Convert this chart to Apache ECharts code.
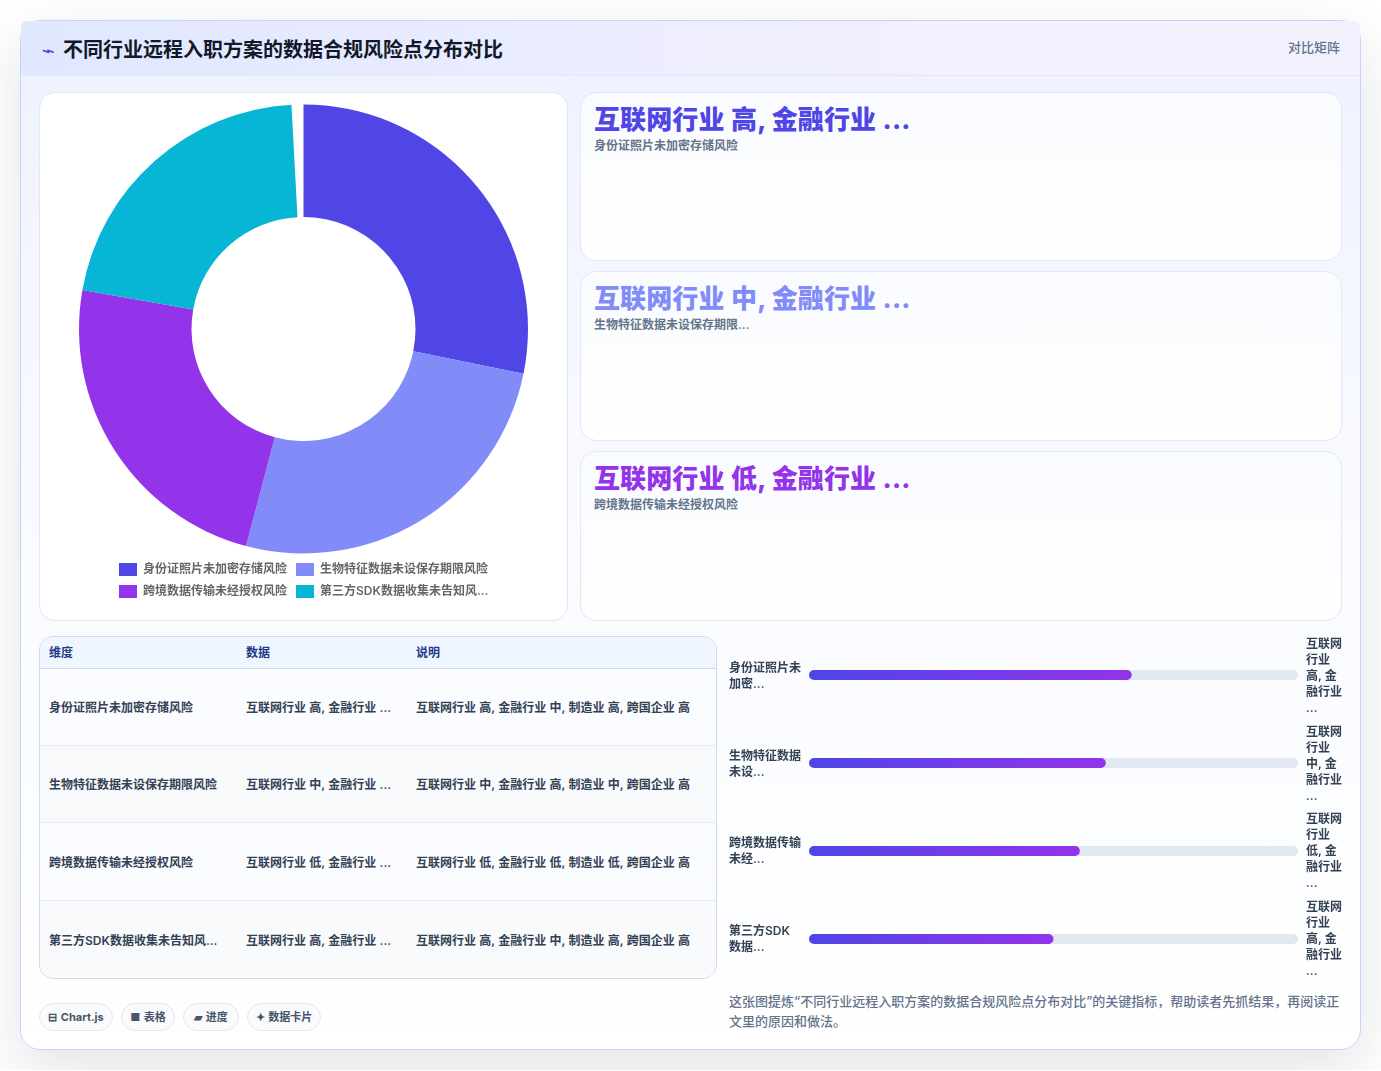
<!DOCTYPE html>
<html lang="zh">
<head>
<meta charset="utf-8">
<title>不同行业远程入职方案的数据合规风险点分布对比</title>
<script src="https://cdn.jsdelivr.net/npm/echarts@6/dist/echarts.min.js"></script>
<style>
  * { box-sizing: border-box; }
  html { margin: 0; padding: 0; background: #fff; }
  body { margin: 0; padding: 0; background: #fff; width: 1381px; height: 1070px; overflow: hidden; position: relative;
         font-family: Inter, "Noto Sans CJK SC", "Noto Sans", sans-serif; color: #334155; }
  .abs { position: absolute; }
  #panel { left: 20px; top: 20px; width: 1341px; height: 1030px; border: 1px solid #c7d2fe; border-radius: 20px;
           background: linear-gradient(180deg, #eef2ff 0%, #f8faff 45%, #ffffff 100%);
           box-shadow: 0 20px 60px rgba(15, 23, 42, 0.12); }
  #head { left: 21px; top: 21px; width: 1339px; height: 55px; border-bottom: 1px solid #e2e8f8;
          background: linear-gradient(90deg, #e0e7ff 0%, #f3f0ff 70%, #f4f1ff 100%); border-radius: 6px 6px 0 0; }
  #bolt { left: 42px; top: 40px; font-size: 16px; line-height: 20px; color: #4f46e5; font-weight: 700;
          transform: scale(1.3, 0.75); transform-origin: left center; }
  #title { left: 63px; top: 36px; font-size: 20px; line-height: 29px; font-weight: 700; color: #111827; white-space: nowrap; }
  #mode { right: 41px; top: 37px; font-size: 13px; line-height: 20px; color: #64748b; font-weight: 500; }
  .card { background: linear-gradient(180deg, #fafbff 0%, #ffffff 100%); border: 1px solid #e2e8f8; border-radius: 16px; }
  #pieCard { left: 39px; top: 92px; width: 529px; height: 529px; background: #fff; }
  #pie { left: 40px; top: 94px; width: 527px; height: 526px; }
  .stat { left: 580px; width: 762px; }
  .stat b { position: absolute; left: 13px; top: 8px; font-size: 26px; line-height: 38px; font-weight: 800; white-space: pre;
            letter-spacing: 0.12px; word-spacing: 0.6px; }
  .stat span { position: absolute; left: 13px; top: 44px; font-size: 12px; line-height: 18px; color: #64748b; font-weight: 600; }
  #table { left: 39px; top: 635.5px; width: 678px; height: 343px; border: 1px solid #cfd9ea; border-radius: 14px;
           overflow: hidden; background: #fbfcff; }
  #table div.row { position: absolute; left: 0; width: 100%; border-bottom: 1px solid #e4e9f2; }
  #table div.row:last-child { border-bottom: 0; }
  #table i { position: absolute; left: 0; top: 0; bottom: 0; font-style: normal; display: flex; align-items: center;
             font-size: 12px; font-weight: 600; white-space: pre; word-spacing: 0.3px; }
  #table div.hd { background: #eff6ff; border-bottom: 1px solid #cfd9ea; }
  #table div.hd i { color: #1e3a8a; font-weight: 700; padding-bottom: 2px; }
  #table div.alt { background: #f8fafc; }
  #bars { left: 721px; top: 631px; width: 632px; height: 352px; }
  .chip { top: 1003px; height: 28px; border: 1px solid #e2e8f0; border-radius: 14px; background: #f8fafc; word-spacing: 1px;
          font-size: 11px; line-height: 26px; font-weight: 700; color: #475569; text-align: center; white-space: nowrap; }
  #note { left: 729px; top: 991px; width: 620px; font-size: 13px; line-height: 20px; color: #64748b; font-weight: 500; }
</style>
</head>
<body>
<div class="abs" id="panel"></div>
<div class="abs" id="head"></div>
<div class="abs" id="bolt">⌁</div>
<div class="abs" id="title"></div>
<div class="abs" id="mode"></div>
<div class="abs card" id="pieCard"></div>
<div class="abs" id="pie"></div>
<div class="abs" id="stats"></div>
<div class="abs" id="table"></div>
<div class="abs" id="bars"></div>
<div class="abs" id="chips"></div>
<div class="abs" id="note"></div>

<script>
// Dashboard copy
const pageTitle = '不同行业远程入职方案的数据合规风险点分布对比';
const modeLabel = '对比矩阵';
const noteText = '这张图提炼“不同行业远程入职方案的数据合规风险点分布对比”的关键指标，帮助读者先抓结果，再阅读正文里的原因和做法。';

// Risk categories and their scores
const riskNames = ['身份证照片未加密存储风险', '生物特征数据未设保存期限风险', '跨境数据传输未经授权风险', '第三方SDK数据收集未告知风险'];
const riskScores = [66, 60.7, 55.4, 50];
const unassignedShare = [2];
const riskColors = ['#4f46e5', '#818cf8', '#9333ea', '#06b6d4'];

// Short value strings and the full per-industry ratings
const shortValues = ['互联网行业 高, 金融行业 ...', '互联网行业 中, 金融行业 ...', '互联网行业 低, 金融行业 ...', '互联网行业 高, 金融行业 ...'];
const fullValues = [
  '互联网行业 高, 金融行业 中, 制造业 高, 跨国企业 高',
  '互联网行业 中, 金融行业 高, 制造业 中, 跨国企业 高',
  '互联网行业 低, 金融行业 低, 制造业 低, 跨国企业 高',
  '互联网行业 高, 金融行业 中, 制造业 高, 跨国企业 高'
];
const tableHeads = ['维度', '数据', '说明'];
const statNames = ['身份证照片未加密存储风险', '生物特征数据未设保存期限...', '跨境数据传输未经授权风险'];
const barLeftLabels = ['身份证照片未\n加密...', '生物特征数据\n未设...', '跨境数据传输\n未经...', '第三方SDK\n数据...'];
const barRightLabels = ['互联网\n行业\n高, 金\n融行业\n...', '互联网\n行业\n中, 金\n融行业\n...', '互联网\n行业\n低, 金\n融行业\n...', '互联网\n行业\n高, 金\n融行业\n...'];
const chipLabels = ['⊟ Chart.js', '■ 表格', '▰ 进度', '✦ 数据卡片'];

const tableColumnX = [9, 206, 376];
const tableRowTops = [0, 32, 109, 186, 264];
const tableRowHeights = [32, 77, 77, 78, 77];
const statTops = [92, 271, 451];
const statHeights = [169, 170, 170];
const chipLefts = [39, 121, 183, 247];
const chipWidths = [74, 54, 56, 74];

const shorten = (s, n) => (s.length > n ? s.slice(0, n) + '...' : s);

// Static page text
document.getElementById('title').textContent = pageTitle;
document.getElementById('mode').textContent = modeLabel;
document.getElementById('note').textContent = noteText;

// Summary cards
document.getElementById('stats').innerHTML = statNames.map((n, i) =>
  `<div class="abs card stat" style="top:${statTops[i]}px;height:${statHeights[i]}px">
     <b style="color:${riskColors[i]}">${shortValues[i]}</b><span>${n}</span></div>`).join('');

// Detail table
const rowCells = [tableHeads].concat(riskNames.map((n, i) => [shorten(n, 14), shortValues[i], fullValues[i]]));
document.getElementById('table').innerHTML = rowCells.map((cells, r) =>
  `<div class="row ${r === 0 ? 'hd' : (r % 2 === 0 ? 'alt' : '')}" style="top:${tableRowTops[r]}px;height:${tableRowHeights[r]}px">` +
  cells.map((c, k) => `<i style="left:${tableColumnX[k]}px">${c}</i>`).join('') + '</div>').join('');

// Footer chips
document.getElementById('chips').innerHTML = chipLabels.map((c, i) =>
  `<div class="abs chip" style="left:${chipLefts[i]}px;width:${chipWidths[i]}px">${c}</div>`).join('');

// Donut with its legend
const fontFamily = 'Inter, "Noto Sans CJK SC", "Noto Sans", sans-serif';
const pie = echarts.init(document.getElementById('pie'));
pie.setOption({
  animation: false,
  legend: {
    data: riskNames,
    left: 74, top: 464, width: 400, itemWidth: 18, itemHeight: 13, itemGap: 9,
    icon: 'rect', selectedMode: false,
    formatter: n => shorten(n, 14),
    textStyle: { fontFamily, fontSize: 12, fontWeight: 600, color: '#666', padding: [0, 0, 0, 1] }
  },
  series: [{
    type: 'pie', silent: true, startAngle: 90, clockwise: true,
    center: [263.5, 235], radius: [112, 224.5], label: { show: false }, labelLine: { show: false },
    data: riskNames.map((name, i) => ({ name, value: riskScores[i], itemStyle: { color: riskColors[i] } }))
      .concat(unassignedShare.map(value => ({ name: '', value, itemStyle: { color: 'rgba(0,0,0,0)' } })))
  }]
});

// Progress rows: the bars sit in the first grid, the text columns in a second grid just below it
const bars = echarts.init(document.getElementById('bars'));
const barFill = new echarts.graphic.LinearGradient(0, 0, 1, 0, [
  { offset: 0, color: '#4f46e5' }, { offset: 1, color: '#9333ea' }
]);
const axisText = { fontFamily, fontSize: 12, fontWeight: 600, color: '#334155', lineHeight: 16 };
const hiddenLine = { axisLine: { show: false }, axisTick: { show: false } };
bars.setOption({
  animation: false,
  grid: [
    { left: 88, right: 55, top: 0, bottom: 0 },
    { left: 88, right: 55, top: 2, bottom: -2 }
  ],
  xAxis: [
    { gridIndex: 0, type: 'value', min: 0, max: 100, show: false },
    { gridIndex: 1, type: 'value', min: 0, max: 100, show: false }
  ],
  yAxis: [
    { gridIndex: 0, type: 'category', inverse: true, data: barLeftLabels, show: false },
    Object.assign({ gridIndex: 1, type: 'category', inverse: true, data: barLeftLabels,
      axisLabel: Object.assign({}, axisText, { align: 'left', margin: 80 }) }, hiddenLine),
    Object.assign({ gridIndex: 1, type: 'category', inverse: true, position: 'right', data: barRightLabels,
      axisLabel: Object.assign({}, axisText, { align: 'left', margin: 8 }) }, hiddenLine)
  ],
  series: [{
    type: 'bar', xAxisIndex: 0, yAxisIndex: 0, silent: true, barWidth: 10, data: riskScores,
    showBackground: true, backgroundStyle: { color: '#e2e8f0', borderRadius: 5 },
    itemStyle: { color: barFill, borderRadius: 5 }
  }]
});
</script>
</body>
</html>
